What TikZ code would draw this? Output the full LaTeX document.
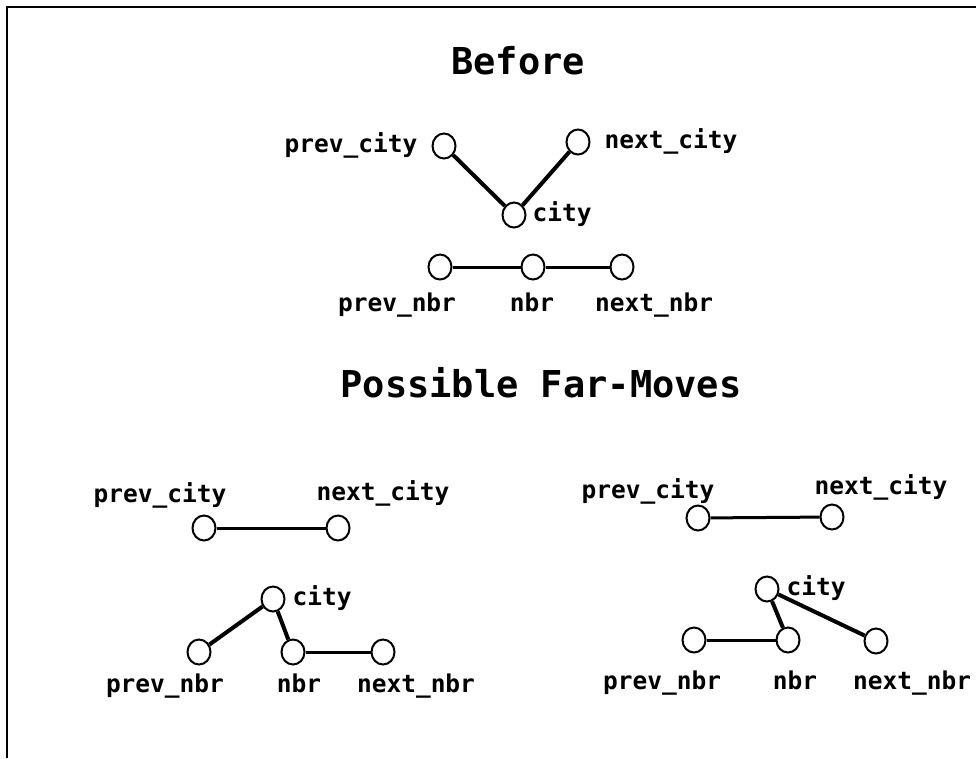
\documentclass[tikz,border=0pt]{standalone}
\usepackage{fontspec}
\setmonofont{DejaVu Sans Mono}
\usepackage{tikz}
\usetikzlibrary{positioning,shapes.geometric}

\begin{document}
\begin{tikzpicture}[
    x=1pt, y=-1pt,
    node distance=12pt and 14pt,
    dot/.style={draw, ellipse, line width=2pt, minimum width=23pt, minimum height=25pt, inner sep=0pt, fill=white},
    lbl/.style={inner sep=0pt, text height=13.5pt, text depth=0pt, font=\ttfamily\bfseries\fontsize{24.5}{26}\selectfont},
    heading/.style={inner sep=0pt, text height=27pt, text depth=0pt, font=\ttfamily\bfseries\fontsize{37}{40}\selectfont},
    tie/.style={line width=4pt},
    link/.style={line width=3pt}
]
    \useasboundingbox (0,0) rectangle (976,758);
    \draw[line width=2pt] (976,7) -- (7,7) -- (7,758);

    % Before
    \node[heading] (before) at (518,61) {Before};
    \node[dot] (pc) at (444,146) {};
    \node[dot] (nc) at (578,142) {};
    \node[dot] (c) at (514,215) {};
    \node[dot] (pn) at (440,267) {};
    \node[dot] (n) at (533,267) {};
    \node[dot] (nn) at (622,267) {};
    \node[lbl, left=of pc] (pcl) {prev\_city};
    \node[lbl, right=of nc] (ncl) {next\_city};
    \node[lbl, right=6pt of c] (cl) {city};
    \node[lbl] (pnl) at (397,305) {prev\_nbr};
    \node[lbl] (nl) at (532,305) {nbr};
    \node[lbl] (nnl) at (654,305) {next\_nbr};

    \draw[tie] (pc) -- (c);
    \draw[tie] (c) -- (nc);
    \draw[link] (pn) -- (n);
    \draw[link] (n) -- (nn);

    \node[heading] (moves) at (541,384) {Possible Far-Moves};

    % first move
    \node[dot] (pcA) at (204,528) {};
    \node[dot] (ncA) at (338,528) {};
    \node[dot] (cA) at (273,599) {};
    \node[dot] (pnA) at (199,652) {};
    \node[dot] (nA) at (293,652) {};
    \node[dot] (nnA) at (383,652) {};
    \node[lbl] (pclA) at (160,496) {prev\_city};
    \node[lbl] (nclA) at (383,494) {next\_city};
    \node[lbl, right=7pt of cA] (clA) {city};
    \node[lbl] (pnlA) at (165,686) {prev\_nbr};
    \node[lbl] (nlA) at (299,686) {nbr};
    \node[lbl] (nnlA) at (416,686) {next\_nbr};

    \draw[link] (pcA) -- (ncA);
    \draw[tie] (cA) -- (pnA);
    \draw[tie] (cA) -- (nA);
    \draw[link] (nA) -- (nnA);

    % second move
    \node[dot] (pcB) at (698,518) {};
    \node[dot] (ncB) at (832,517) {};
    \node[dot] (cB) at (767,589) {};
    \node[dot] (pnB) at (694,640) {};
    \node[dot] (nB) at (788,640) {};
    \node[dot] (nnB) at (876,641) {};
    \node[lbl] (pclB) at (648,492) {prev\_city};
    \node[lbl] (nclB) at (881,488) {next\_city};
    \node[lbl, right=7pt of cB] (clB) {city};
    \node[lbl] (pnlB) at (662,683) {prev\_nbr};
    \node[lbl] (nlB) at (795,683) {nbr};
    \node[lbl] (nnlB) at (912,683) {next\_nbr};

    \draw[link] (pcB) -- (ncB);
    \draw[link] (pnB) -- (nB);
    \draw[tie] (cB) -- (nB);
    \draw[tie] (cB) -- (nnB);
\end{tikzpicture}
\end{document}
